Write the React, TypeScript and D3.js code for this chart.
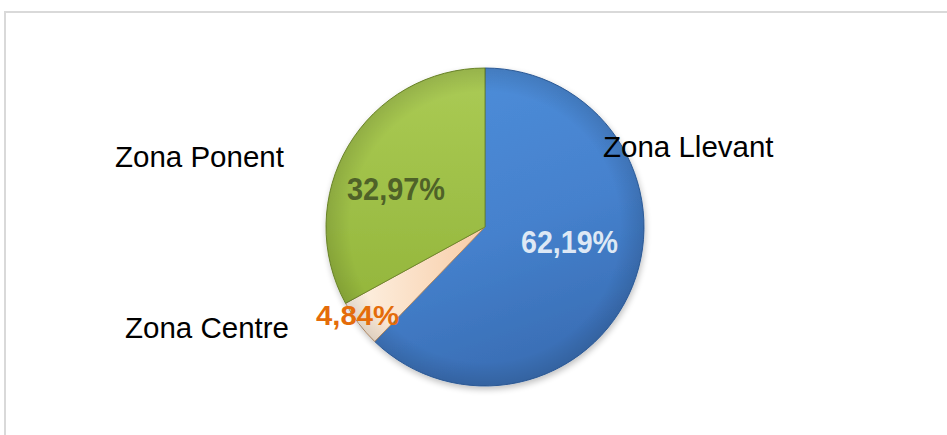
import React from "react";
import * as d3 from "d3";

const categories = ["Zona Llevant", "Zona Centre", "Zona Ponent"];
const values = [62.19, 4.84, 32.97];
const valueLabels = ["62,19%", "4,84%", "32,97%"];

const W = 947;
const H = 435;
const cx = 485;
const cy = 227;
const R = 159;

const fills = ["url(#gBlue)", "url(#gCream)", "url(#gGreen)"];
const strokes = ["#2f5f9e", "#b08a66", "#6f8a2c"];
const pctColors = ["#dde8f5", "#e46c0a", "#4f6228"];
const pctPos: [number, number, number, number][] = [
  [36, 26, 97, 31],
  [-169, 98, 83, 28],
  [-138, -27, 98, 31],
];
const namePos: [number, number][] = [
  [118, -70],
  [-360, 111],
  [-370, -60],
];

export default function App() {
  const pie = d3.pie<number>().sort(null).startAngle(0).endAngle(2 * Math.PI);
  const arcs = pie(values);
  const arcGen = d3.arc<d3.PieArcDatum<number>>().innerRadius(0).outerRadius(R);
  return (
    <svg
      width={W}
      height={H}
      style={{ position: "absolute", left: 0, top: 0, background: "#fff" }}
      fontFamily="'Liberation Sans', Arial, sans-serif"
    >
      <defs>
        <linearGradient id="gBlue" x1="0" y1="0" x2="0.3" y2="1">
          <stop offset="0" stopColor="#4f8fdb" />
          <stop offset="0.6" stopColor="#4581cd" />
          <stop offset="1" stopColor="#3a6fb6" />
        </linearGradient>
        <linearGradient id="gGreen" x1="0" y1="0" x2="0" y2="1">
          <stop offset="0" stopColor="#abcb55" />
          <stop offset="1" stopColor="#94b63c" />
        </linearGradient>
        <linearGradient id="gCream" x1="0" y1="0" x2="1" y2="0">
          <stop offset="0" stopColor="#fdf3e6" />
          <stop offset="1" stopColor="#f8cca6" />
        </linearGradient>
        <radialGradient id="shade" cx="0.5" cy="0.5" r="0.5">
          <stop offset="0.85" stopColor="#000" stopOpacity="0" />
          <stop offset="1" stopColor="#000" stopOpacity="0.12" />
        </radialGradient>
        <filter id="sh" x="-20%" y="-20%" width="140%" height="140%">
          <feGaussianBlur in="SourceAlpha" stdDeviation="3" />
          <feOffset dx="1" dy="3" result="b" />
          <feComponentTransfer>
            <feFuncA type="linear" slope="0.25" />
          </feComponentTransfer>
          <feMerge>
            <feMergeNode />
            <feMergeNode in="SourceGraphic" />
          </feMerge>
        </filter>
      </defs>
      <rect x={5} y={12} width={W + 20} height={H + 20} fill="#fff" stroke="#d9d9d9" strokeWidth={2} />
      <g transform={`translate(${cx},${cy})`}>
        <g filter="url(#sh)">
          {arcs.map((a, i) => (
            <path key={i} d={arcGen(a) || ""} fill={fills[i]} stroke={strokes[i]} strokeWidth={1} />
          ))}
        </g>
        <circle r={R} fill="url(#shade)" pointerEvents="none" />
        {arcs.map((a, i) => (
          <text
            key={"n" + i}
            x={namePos[i][0]}
            y={namePos[i][1]}
            fill="#000"
            fontSize={29.5}
          >
            {categories[i]}
          </text>
        ))}
        {arcs.map((a, i) => (
          <text
            key={"p" + i}
            x={pctPos[i][0]}
            y={pctPos[i][1]}
            fill={pctColors[i]}
            fontWeight="bold"
            fontSize={pctPos[i][3]}
            textLength={pctPos[i][2]}
            lengthAdjust="spacingAndGlyphs"
          >
            {valueLabels[i]}
          </text>
        ))}
      </g>
    </svg>
  );
}
